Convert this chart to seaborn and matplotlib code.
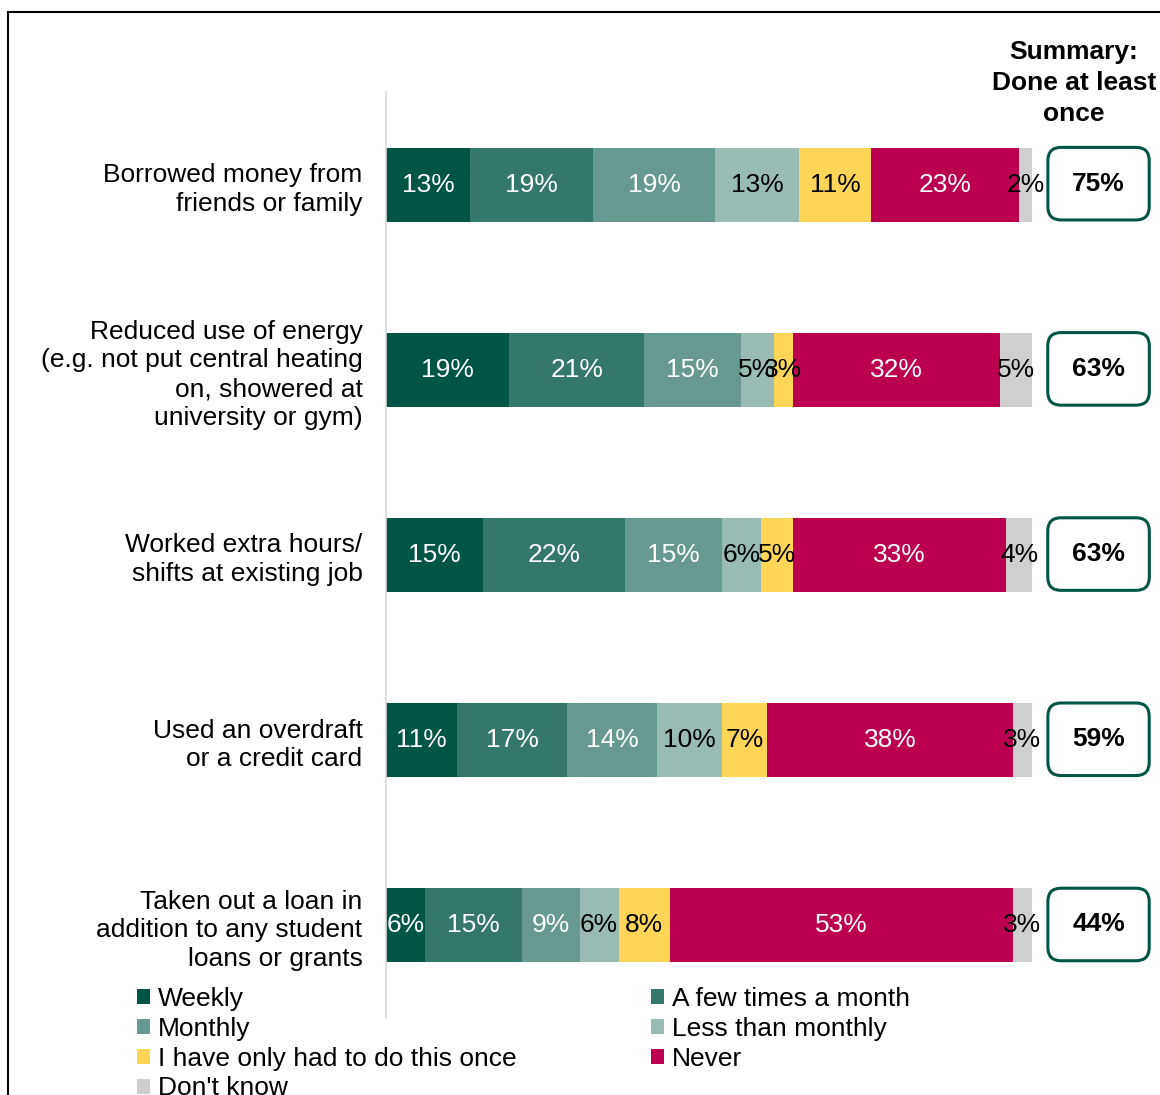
import matplotlib
matplotlib.use("Agg")
import matplotlib.pyplot as plt
from matplotlib.patches import Patch, Rectangle
import numpy as np
import pandas as pd
import seaborn as sns

# Survey items (top to bottom)
items = [
    "Borrowed money from\nfriends or family",
    "Reduced use of energy\n(e.g. not put central heating\non, showered at\nuniversity or gym)",
    "Worked extra hours/\nshifts at existing job",
    "Used an overdraft\nor a credit card",
    "Taken out a loan in\naddition to any student\nloans or grants",
]

# Response frequencies, % of respondents per item
weekly = [13, 19, 15, 11, 6]
few_times_month = [19, 21, 22, 17, 15]
monthly = [19, 15, 15, 14, 9]
less_than_monthly = [13, 5, 6, 10, 6]
only_once = [11, 3, 5, 7, 8]
never = [23, 32, 33, 38, 53]
dont_know = [2, 5, 4, 3, 3]

series_names = ["Weekly", "A few times a month", "Monthly", "Less than monthly",
                "I have only had to do this once", "Never", "Don't know"]
series_values = [weekly, few_times_month, monthly, less_than_monthly,
                 only_once, never, dont_know]
colors = ["#005545", "#34786B", "#66998F", "#99BBB4", "#FFD557", "#BB004F", "#D0CFCF"]
text_colors = ["white", "white", "white", "black", "black", "white", "black"]

df = pd.DataFrame(dict(zip(series_names, series_values)))
df["item"] = items
cum = df[series_names].cumsum(axis=1)
# "Done at least once" = every frequency except Never / Don't know
done_once = df[series_names[:5]].sum(axis=1)

sns.set_theme(style="white")
plt.rcParams["font.family"] = ["Liberation Sans", "DejaVu Sans"]
plt.rcParams["text.color"] = "black"
plt.rcParams["ytick.color"] = "black"

W, H = 1160, 1095
fig = plt.figure(figsize=(W / 100, H / 100), dpi=100)
px_per_unit = 6.46
ax = fig.add_axes([386 / W, 1 - 1018 / H, 774 / W, 926 / H])

# Stacked bars: draw cumulative totals from the last series back to the first
for name, col in reversed(list(zip(series_names, colors))):
    sns.barplot(x=cum[name], y=df["item"], orient="h", color=col,
                width=0.4, saturation=1, linewidth=0, ax=ax)

fs = 19
for i in range(len(items)):
    for j, name in enumerate(series_names):
        v = df.loc[i, name]
        mid = cum.loc[i, name] - v / 2
        ax.text(mid, i, f"{v}%", ha="center", va="center",
                color=text_colors[j], fontsize=fs)
    ax.text(110.3, i - 0.005, f"{done_once[i]}%", ha="center", va="center",
            fontsize=fs, fontweight="bold", color="black",
            bbox=dict(boxstyle="round,pad=0.92,rounding_size=0.5",
                      fc="white", ec="#005545", lw=2.2))

ax.set_xlim(0, 774 / px_per_unit)
ax.set_ylim(4.5, -0.5)
ax.set_xlabel("")
ax.set_ylabel("")
ax.set_xticks([])
ax.tick_params(axis="y", length=0, pad=17, labelsize=fs, labelcolor="black")
for s in ["top", "right", "bottom"]:
    ax.spines[s].set_visible(False)
ax.spines["left"].set_color("#D9D9D9")
ax.spines["left"].set_linewidth(1.2)
for lbl in ax.get_yticklabels():
    lbl.set_multialignment("right")
    lbl.set_linespacing(1.25)

fig.text(1074 / W, 1 - 83 / H, "Summary:\nDone at least\nonce", ha="center",
         va="center", fontsize=fs, fontweight="bold", linespacing=1.36)

# Legend laid out row by row over two columns
handles = [Patch(fc=c, ec="none") for c in colors]
left_idx = [0, 2, 4, 6]
right_idx = [1, 3, 5]
common = dict(frameon=False, fontsize=fs, handlelength=0.5, handleheight=0.5,
              handletextpad=0.28, labelspacing=0.22, borderpad=0, borderaxespad=0,
              loc="upper left")
fig.legend([handles[k] for k in left_idx], [series_names[k] for k in left_idx],
           bbox_to_anchor=(137 / W, 1 - 987 / H), **common)
fig.legend([handles[k] for k in right_idx], [series_names[k] for k in right_idx],
           bbox_to_anchor=(651 / W, 1 - 987 / H), **common)

fig.add_artist(Rectangle((8 / W, -0.05), 1.2, 1 - 12 / H + 0.05,
                         transform=fig.transFigure, fill=False, ec="black", lw=1.5))

fig.savefig("out.png", dpi=100)
